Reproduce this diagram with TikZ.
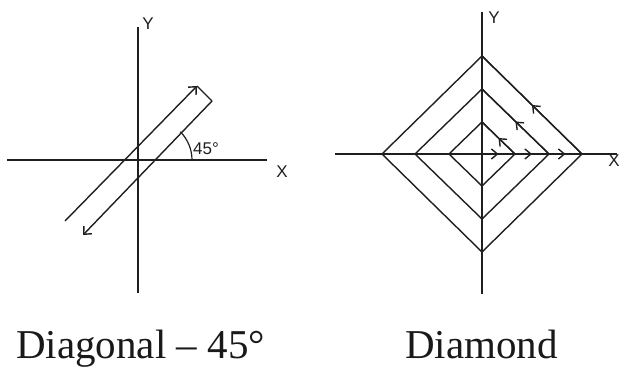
\documentclass[tikz,border=0pt]{standalone}
\usepackage{fontspec}
\setmainfont{Liberation Serif}
\newfontfamily\labfont{Liberation Sans}
\usetikzlibrary{arrows.meta,decorations.markings}
\begin{document}
\begin{tikzpicture}[x=1pt,y=-1pt,
  ln/.style={line width=1.4pt,draw=black!88},
  barb/.style={-{Straight Barb[length=6pt,width=11pt,line width=1.4pt]}},
  midarrow/.style={postaction={decorate},decoration={markings,
     mark=at position 0.5 with {\arrow{Straight Barb[length=6pt,width=10pt,line width=1.4pt]}}}},
  axlab/.style={font=\labfont\fontsize{17}{17}\selectfont,inner sep=0pt,text=black!88},
  caption/.style={font=\fontsize{41}{41}\selectfont,inner sep=0pt,anchor=base west,text=black!90}]
\useasboundingbox (0,0) rectangle (627,367);
% ---------- left panel ----------
\coordinate (ly1) at (138,27);
\coordinate (ly2) at (138,293);
\coordinate (lx1) at (7,160);
\coordinate (lx2) at (267,160);
\draw[ln] (ly1) -- (ly2);
\draw[ln] (lx1) -- (lx2);
\node[axlab] (lY) at (148,24) {Y};
\node[axlab] (lX) at (282,172) {X};
\coordinate (b1) at (65,221);
\coordinate (b2) at (197,86);
\coordinate (b3) at (212,101);
\coordinate (b4) at (83,235);
\draw[ln,barb] (b1) -- (b2);
\draw[ln] (b2) -- (b3);
\draw[ln,barb] (b3) -- (b4);
\coordinate (ac) at (152,160);
\draw[ln,line width=1.2pt] (192,160) arc[start angle=0,end angle=-45,radius=40];
\node[axlab,anchor=west] (ang) at (193,149) {45°};
% ---------- right panel ----------
\coordinate (c) at (482,154);
\coordinate (ry1) at (482,12);
\coordinate (ry2) at (482,294);
\coordinate (rx1) at (335,154);
\coordinate (rx2) at (617,154);
\draw[ln] (ry1) -- (ry2);
\draw[ln] (rx1) -- (rx2);
\node[axlab] (rY) at (494,18) {Y};
\node[axlab] (rX) at (614,161) {X};
\foreach \n/\w/\h in {1/33/32,2/67/65,3/100/98}{
  \coordinate (r\n) at (482+\w,154);
  \coordinate (t\n) at (482,154-\h);
  \coordinate (l\n) at (482-\w,154);
  \coordinate (d\n) at (482,154+\h);
  \draw[ln] (r\n) -- (t\n) -- (l\n) -- (d\n) -- cycle;
  \draw[ln,midarrow] (r\n) -- (t\n);
}
\draw[ln,midarrow] (c) -- (r1);
\draw[ln,midarrow] (r1) -- (r2);
\draw[ln,midarrow] (r2) -- (r3);
% ---------- captions ----------
\node[caption] (cap1) at (16,358) {Diagonal – 45°};
\node[caption] (cap2) at (405,358) {Diamond};
\end{tikzpicture}
\end{document}
